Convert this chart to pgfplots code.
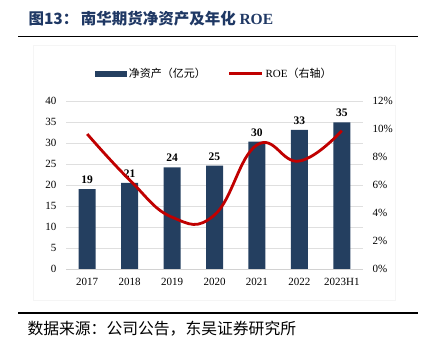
\documentclass[border=0pt]{standalone}
\usepackage{pgfplots}
\pgfplotsset{compat=1.18}
\usepackage{fontspec}
\setmainfont{Liberation Serif}
\newfontfamily\cjk{Noto Sans CJK SC}
\definecolor{barblue}{HTML}{243F60}
\definecolor{roered}{HTML}{C00000}
\definecolor{titleblue}{HTML}{1F3864}
\begin{document}
\begin{tikzpicture}[x=1bp,y=1bp]
\path[use as bounding box] (0,0) rectangle (423,353);
\draw[gray!8, line width=0.6bp] (33,53) rectangle (395,308);
% rules
\draw[black, line width=1.8bp] (18,316.5) -- (418,316.5);
\draw[black, line width=1.8bp] (18,40) -- (418,40);
% title
\node[anchor=west, text=titleblue, font=\fontsize{15.5bp}{17bp}\selectfont] at (25,334) {\cjk\bfseries 图13：\,南华期货净资产及年化 \rmfamily\bfseries ROE};
\node[anchor=west, font=\fontsize{15.8bp}{17bp}\selectfont] at (24,24) {\cjk 数据来源：公司公告，东吴证券研究所};
\begin{axis}[
  at={(66bp,84bp)}, anchor=south west, scale only axis,
  width=297bp, height=168bp,
  xmin=-0.5, xmax=6.5, ymin=0, ymax=40,
  ytick={0,5,...,40},
  xtick={0,...,6}, xticklabels={2017,2018,2019,2020,2021,2022,2023H1},
  axis x line*=bottom, axis y line*=left,
  x axis line style={draw=gray!35, line width=0.8bp, -},
  y axis line style={draw=none},
  ymajorgrids, grid style={gray!25, line width=0.8bp},
  major tick length=0pt,
  tick label style={font=\fontsize{11bp}{12bp}\selectfont},
  /pgf/number format/assume math mode=true,
  yticklabel style={xshift=-6bp},
  xticklabel style={yshift=-6bp},
  clip=false,
]
\addplot[ybar, bar width=17bp, fill=barblue, draw=none,
  point meta=explicit symbolic,
  nodes near coords,
  nodes near coords style={font=\fontsize{11.5bp}{12bp}\selectfont\bfseries, yshift=2bp}]
  coordinates {(0,19.0) [19] (1,20.5) [21] (2,24.2) [24] (3,24.6) [25] (4,30.3) [30] (5,33.1) [33] (6,34.9) [35]};
\end{axis}
\begin{axis}[
  at={(66bp,84bp)}, anchor=south west, scale only axis,
  width=297bp, height=168bp,
  xmin=-0.5, xmax=6.5, ymin=0, ymax=12,
  ytick={0,2,...,12},
  yticklabel={\pgfmathprintnumber{\tick}\%},
  axis y line*=right, axis x line=none,
  y axis line style={draw=none},
  major tick length=0pt,
  tick label style={font=\fontsize{11bp}{12bp}\selectfont},
  /pgf/number format/assume math mode=true,
  yticklabel style={xshift=6bp},
  legend style={at={(0.5,1)}, anchor=south, yshift=18bp, draw=none, fill=none,
    legend columns=2, font=\fontsize{11bp}{12bp}\selectfont,
    /tikz/every even column/.append style={column sep=20bp}},
  legend cell align=left,
]
\addlegendimage{legend image code/.code={\fill[barblue] (-2bp,-2.5bp) rectangle (29bp,2.5bp);}}
\addlegendentry{\cjk 净资产（亿元）}
\addplot[roered, line width=2.8bp, smooth, tension=0.75,
  legend image code/.code={\draw[roered, line width=2.8bp] (-2bp,0) -- (31bp,0);}]
  coordinates {(0,9.64) (1,6.36) (2,3.70) (3,3.86) (4,8.86) (5,7.71) (6,9.88)};
\addlegendentry{ROE\cjk（右轴）}
\end{axis}
\end{tikzpicture}
\end{document}
